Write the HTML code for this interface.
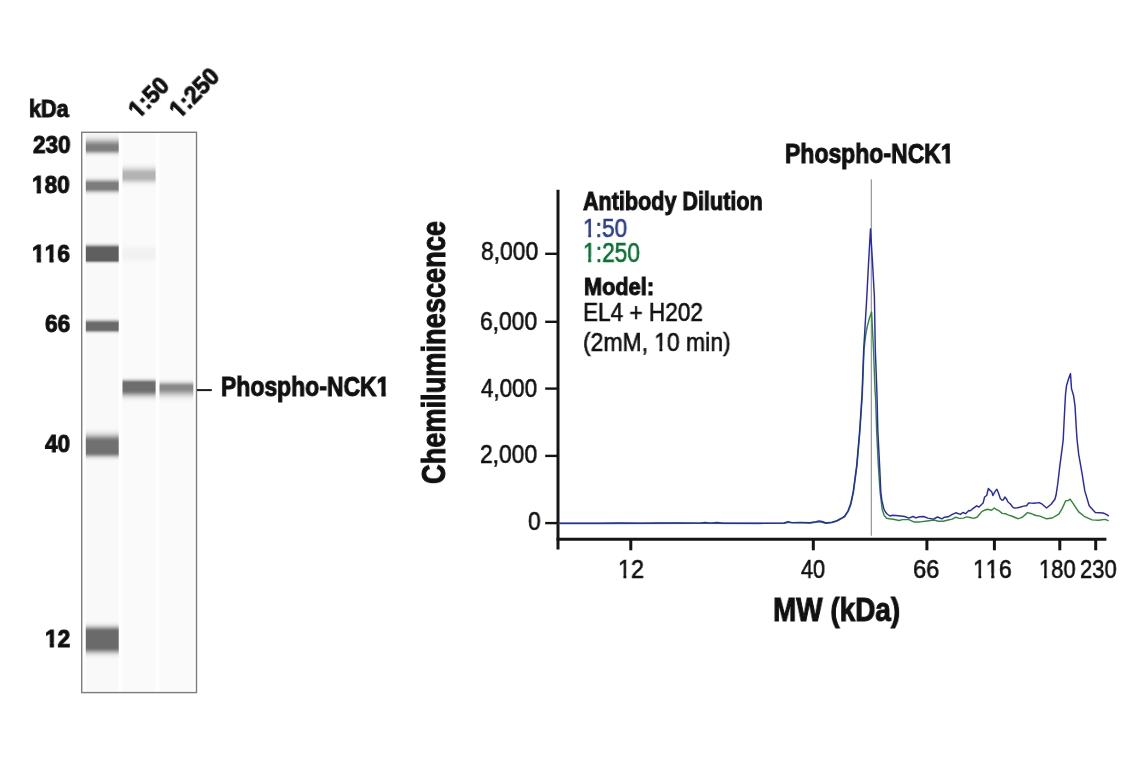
<!DOCTYPE html>
<html><head><meta charset="utf-8"><style>
html,body{margin:0;padding:0;background:#fff;}
body{width:1141px;height:768px;position:relative;overflow:hidden;}
.t{position:absolute;font-family:"Liberation Sans",sans-serif;line-height:1;white-space:pre;transform-origin:0 0;will-change:transform;}.ob,.or{display:inline-block;}.ob{clip-path:polygon(-1em -1em,2em -1em,2em 0.62em,0.395em 0.62em,0.395em 2em,0.21em 2em,0.21em 0.62em,-1em 0.62em);}.or{clip-path:polygon(-1em -1em,2em -1em,2em 0.62em,0.355em 0.62em,0.355em 2em,0.23em 2em,0.23em 0.62em,-1em 0.62em);}
</style></head><body>
<svg width="1141" height="768" viewBox="0 0 1141 768" style="position:absolute;left:0;top:0">
<defs><linearGradient id="g0" x1="0" y1="0" x2="0" y2="1"><stop offset="0.000" stop-color="#7e7e7e" stop-opacity="0.011"/><stop offset="0.025" stop-color="#7e7e7e" stop-opacity="0.016"/><stop offset="0.050" stop-color="#7e7e7e" stop-opacity="0.024"/><stop offset="0.075" stop-color="#7e7e7e" stop-opacity="0.034"/><stop offset="0.100" stop-color="#7e7e7e" stop-opacity="0.048"/><stop offset="0.125" stop-color="#7e7e7e" stop-opacity="0.065"/><stop offset="0.150" stop-color="#7e7e7e" stop-opacity="0.089"/><stop offset="0.175" stop-color="#7e7e7e" stop-opacity="0.118"/><stop offset="0.200" stop-color="#7e7e7e" stop-opacity="0.153"/><stop offset="0.225" stop-color="#7e7e7e" stop-opacity="0.197"/><stop offset="0.250" stop-color="#7e7e7e" stop-opacity="0.248"/><stop offset="0.275" stop-color="#7e7e7e" stop-opacity="0.307"/><stop offset="0.300" stop-color="#7e7e7e" stop-opacity="0.373"/><stop offset="0.325" stop-color="#7e7e7e" stop-opacity="0.446"/><stop offset="0.350" stop-color="#7e7e7e" stop-opacity="0.523"/><stop offset="0.375" stop-color="#7e7e7e" stop-opacity="0.603"/><stop offset="0.400" stop-color="#7e7e7e" stop-opacity="0.684"/><stop offset="0.425" stop-color="#7e7e7e" stop-opacity="0.761"/><stop offset="0.450" stop-color="#7e7e7e" stop-opacity="0.832"/><stop offset="0.475" stop-color="#7e7e7e" stop-opacity="0.894"/><stop offset="0.500" stop-color="#7e7e7e" stop-opacity="0.944"/><stop offset="0.525" stop-color="#7e7e7e" stop-opacity="0.979"/><stop offset="0.550" stop-color="#7e7e7e" stop-opacity="0.997"/><stop offset="0.575" stop-color="#7e7e7e" stop-opacity="1.000"/><stop offset="0.600" stop-color="#7e7e7e" stop-opacity="1.000"/><stop offset="0.625" stop-color="#7e7e7e" stop-opacity="1.000"/><stop offset="0.650" stop-color="#7e7e7e" stop-opacity="1.000"/><stop offset="0.675" stop-color="#7e7e7e" stop-opacity="1.000"/><stop offset="0.700" stop-color="#7e7e7e" stop-opacity="0.976"/><stop offset="0.725" stop-color="#7e7e7e" stop-opacity="0.902"/><stop offset="0.750" stop-color="#7e7e7e" stop-opacity="0.791"/><stop offset="0.775" stop-color="#7e7e7e" stop-opacity="0.657"/><stop offset="0.800" stop-color="#7e7e7e" stop-opacity="0.517"/><stop offset="0.825" stop-color="#7e7e7e" stop-opacity="0.386"/><stop offset="0.850" stop-color="#7e7e7e" stop-opacity="0.273"/><stop offset="0.875" stop-color="#7e7e7e" stop-opacity="0.183"/><stop offset="0.900" stop-color="#7e7e7e" stop-opacity="0.116"/><stop offset="0.925" stop-color="#7e7e7e" stop-opacity="0.070"/><stop offset="0.950" stop-color="#7e7e7e" stop-opacity="0.040"/><stop offset="0.975" stop-color="#7e7e7e" stop-opacity="0.022"/><stop offset="1.000" stop-color="#7e7e7e" stop-opacity="0.011"/></linearGradient><linearGradient id="g1" x1="0" y1="0" x2="0" y2="1"><stop offset="0.000" stop-color="#7c7c7c" stop-opacity="0.011"/><stop offset="0.025" stop-color="#7c7c7c" stop-opacity="0.019"/><stop offset="0.050" stop-color="#7c7c7c" stop-opacity="0.033"/><stop offset="0.075" stop-color="#7c7c7c" stop-opacity="0.053"/><stop offset="0.100" stop-color="#7c7c7c" stop-opacity="0.083"/><stop offset="0.125" stop-color="#7c7c7c" stop-opacity="0.125"/><stop offset="0.150" stop-color="#7c7c7c" stop-opacity="0.182"/><stop offset="0.175" stop-color="#7c7c7c" stop-opacity="0.255"/><stop offset="0.200" stop-color="#7c7c7c" stop-opacity="0.344"/><stop offset="0.225" stop-color="#7c7c7c" stop-opacity="0.448"/><stop offset="0.250" stop-color="#7c7c7c" stop-opacity="0.561"/><stop offset="0.275" stop-color="#7c7c7c" stop-opacity="0.677"/><stop offset="0.300" stop-color="#7c7c7c" stop-opacity="0.788"/><stop offset="0.325" stop-color="#7c7c7c" stop-opacity="0.883"/><stop offset="0.350" stop-color="#7c7c7c" stop-opacity="0.954"/><stop offset="0.375" stop-color="#7c7c7c" stop-opacity="0.994"/><stop offset="0.400" stop-color="#7c7c7c" stop-opacity="1.000"/><stop offset="0.425" stop-color="#7c7c7c" stop-opacity="1.000"/><stop offset="0.450" stop-color="#7c7c7c" stop-opacity="1.000"/><stop offset="0.475" stop-color="#7c7c7c" stop-opacity="1.000"/><stop offset="0.500" stop-color="#7c7c7c" stop-opacity="1.000"/><stop offset="0.525" stop-color="#7c7c7c" stop-opacity="1.000"/><stop offset="0.550" stop-color="#7c7c7c" stop-opacity="1.000"/><stop offset="0.575" stop-color="#7c7c7c" stop-opacity="1.000"/><stop offset="0.600" stop-color="#7c7c7c" stop-opacity="1.000"/><stop offset="0.625" stop-color="#7c7c7c" stop-opacity="0.999"/><stop offset="0.650" stop-color="#7c7c7c" stop-opacity="0.971"/><stop offset="0.675" stop-color="#7c7c7c" stop-opacity="0.908"/><stop offset="0.700" stop-color="#7c7c7c" stop-opacity="0.816"/><stop offset="0.725" stop-color="#7c7c7c" stop-opacity="0.706"/><stop offset="0.750" stop-color="#7c7c7c" stop-opacity="0.588"/><stop offset="0.775" stop-color="#7c7c7c" stop-opacity="0.471"/><stop offset="0.800" stop-color="#7c7c7c" stop-opacity="0.362"/><stop offset="0.825" stop-color="#7c7c7c" stop-opacity="0.269"/><stop offset="0.850" stop-color="#7c7c7c" stop-opacity="0.191"/><stop offset="0.875" stop-color="#7c7c7c" stop-opacity="0.131"/><stop offset="0.900" stop-color="#7c7c7c" stop-opacity="0.087"/><stop offset="0.925" stop-color="#7c7c7c" stop-opacity="0.055"/><stop offset="0.950" stop-color="#7c7c7c" stop-opacity="0.034"/><stop offset="0.975" stop-color="#7c7c7c" stop-opacity="0.020"/><stop offset="1.000" stop-color="#7c7c7c" stop-opacity="0.011"/></linearGradient><linearGradient id="g2" x1="0" y1="0" x2="0" y2="1"><stop offset="0.000" stop-color="#5f5f5f" stop-opacity="0.011"/><stop offset="0.025" stop-color="#5f5f5f" stop-opacity="0.024"/><stop offset="0.050" stop-color="#5f5f5f" stop-opacity="0.047"/><stop offset="0.075" stop-color="#5f5f5f" stop-opacity="0.088"/><stop offset="0.100" stop-color="#5f5f5f" stop-opacity="0.152"/><stop offset="0.125" stop-color="#5f5f5f" stop-opacity="0.246"/><stop offset="0.150" stop-color="#5f5f5f" stop-opacity="0.371"/><stop offset="0.175" stop-color="#5f5f5f" stop-opacity="0.520"/><stop offset="0.200" stop-color="#5f5f5f" stop-opacity="0.680"/><stop offset="0.225" stop-color="#5f5f5f" stop-opacity="0.828"/><stop offset="0.250" stop-color="#5f5f5f" stop-opacity="0.941"/><stop offset="0.275" stop-color="#5f5f5f" stop-opacity="0.997"/><stop offset="0.300" stop-color="#5f5f5f" stop-opacity="1.000"/><stop offset="0.325" stop-color="#5f5f5f" stop-opacity="1.000"/><stop offset="0.350" stop-color="#5f5f5f" stop-opacity="1.000"/><stop offset="0.375" stop-color="#5f5f5f" stop-opacity="1.000"/><stop offset="0.400" stop-color="#5f5f5f" stop-opacity="1.000"/><stop offset="0.425" stop-color="#5f5f5f" stop-opacity="1.000"/><stop offset="0.450" stop-color="#5f5f5f" stop-opacity="1.000"/><stop offset="0.475" stop-color="#5f5f5f" stop-opacity="1.000"/><stop offset="0.500" stop-color="#5f5f5f" stop-opacity="1.000"/><stop offset="0.525" stop-color="#5f5f5f" stop-opacity="1.000"/><stop offset="0.550" stop-color="#5f5f5f" stop-opacity="1.000"/><stop offset="0.575" stop-color="#5f5f5f" stop-opacity="1.000"/><stop offset="0.600" stop-color="#5f5f5f" stop-opacity="1.000"/><stop offset="0.625" stop-color="#5f5f5f" stop-opacity="1.000"/><stop offset="0.650" stop-color="#5f5f5f" stop-opacity="1.000"/><stop offset="0.675" stop-color="#5f5f5f" stop-opacity="1.000"/><stop offset="0.700" stop-color="#5f5f5f" stop-opacity="1.000"/><stop offset="0.725" stop-color="#5f5f5f" stop-opacity="1.000"/><stop offset="0.750" stop-color="#5f5f5f" stop-opacity="1.000"/><stop offset="0.775" stop-color="#5f5f5f" stop-opacity="1.000"/><stop offset="0.800" stop-color="#5f5f5f" stop-opacity="1.000"/><stop offset="0.825" stop-color="#5f5f5f" stop-opacity="0.985"/><stop offset="0.850" stop-color="#5f5f5f" stop-opacity="0.845"/><stop offset="0.875" stop-color="#5f5f5f" stop-opacity="0.617"/><stop offset="0.900" stop-color="#5f5f5f" stop-opacity="0.382"/><stop offset="0.925" stop-color="#5f5f5f" stop-opacity="0.202"/><stop offset="0.950" stop-color="#5f5f5f" stop-opacity="0.090"/><stop offset="0.975" stop-color="#5f5f5f" stop-opacity="0.034"/><stop offset="1.000" stop-color="#5f5f5f" stop-opacity="0.011"/></linearGradient><linearGradient id="g3" x1="0" y1="0" x2="0" y2="1"><stop offset="0.000" stop-color="#6a6a6a" stop-opacity="0.011"/><stop offset="0.025" stop-color="#6a6a6a" stop-opacity="0.020"/><stop offset="0.050" stop-color="#6a6a6a" stop-opacity="0.035"/><stop offset="0.075" stop-color="#6a6a6a" stop-opacity="0.059"/><stop offset="0.100" stop-color="#6a6a6a" stop-opacity="0.095"/><stop offset="0.125" stop-color="#6a6a6a" stop-opacity="0.145"/><stop offset="0.150" stop-color="#6a6a6a" stop-opacity="0.214"/><stop offset="0.175" stop-color="#6a6a6a" stop-opacity="0.301"/><stop offset="0.200" stop-color="#6a6a6a" stop-opacity="0.406"/><stop offset="0.225" stop-color="#6a6a6a" stop-opacity="0.525"/><stop offset="0.250" stop-color="#6a6a6a" stop-opacity="0.650"/><stop offset="0.275" stop-color="#6a6a6a" stop-opacity="0.771"/><stop offset="0.300" stop-color="#6a6a6a" stop-opacity="0.876"/><stop offset="0.325" stop-color="#6a6a6a" stop-opacity="0.954"/><stop offset="0.350" stop-color="#6a6a6a" stop-opacity="0.995"/><stop offset="0.375" stop-color="#6a6a6a" stop-opacity="1.000"/><stop offset="0.400" stop-color="#6a6a6a" stop-opacity="1.000"/><stop offset="0.425" stop-color="#6a6a6a" stop-opacity="1.000"/><stop offset="0.450" stop-color="#6a6a6a" stop-opacity="1.000"/><stop offset="0.475" stop-color="#6a6a6a" stop-opacity="1.000"/><stop offset="0.500" stop-color="#6a6a6a" stop-opacity="1.000"/><stop offset="0.525" stop-color="#6a6a6a" stop-opacity="1.000"/><stop offset="0.550" stop-color="#6a6a6a" stop-opacity="1.000"/><stop offset="0.575" stop-color="#6a6a6a" stop-opacity="1.000"/><stop offset="0.600" stop-color="#6a6a6a" stop-opacity="1.000"/><stop offset="0.625" stop-color="#6a6a6a" stop-opacity="1.000"/><stop offset="0.650" stop-color="#6a6a6a" stop-opacity="1.000"/><stop offset="0.675" stop-color="#6a6a6a" stop-opacity="1.000"/><stop offset="0.700" stop-color="#6a6a6a" stop-opacity="1.000"/><stop offset="0.725" stop-color="#6a6a6a" stop-opacity="0.984"/><stop offset="0.750" stop-color="#6a6a6a" stop-opacity="0.910"/><stop offset="0.775" stop-color="#6a6a6a" stop-opacity="0.788"/><stop offset="0.800" stop-color="#6a6a6a" stop-opacity="0.638"/><stop offset="0.825" stop-color="#6a6a6a" stop-opacity="0.484"/><stop offset="0.850" stop-color="#6a6a6a" stop-opacity="0.344"/><stop offset="0.875" stop-color="#6a6a6a" stop-opacity="0.229"/><stop offset="0.900" stop-color="#6a6a6a" stop-opacity="0.143"/><stop offset="0.925" stop-color="#6a6a6a" stop-opacity="0.083"/><stop offset="0.950" stop-color="#6a6a6a" stop-opacity="0.045"/><stop offset="0.975" stop-color="#6a6a6a" stop-opacity="0.023"/><stop offset="1.000" stop-color="#6a6a6a" stop-opacity="0.011"/></linearGradient><linearGradient id="g4" x1="0" y1="0" x2="0" y2="1"><stop offset="0.000" stop-color="#707070" stop-opacity="0.011"/><stop offset="0.025" stop-color="#707070" stop-opacity="0.019"/><stop offset="0.050" stop-color="#707070" stop-opacity="0.031"/><stop offset="0.075" stop-color="#707070" stop-opacity="0.050"/><stop offset="0.100" stop-color="#707070" stop-opacity="0.076"/><stop offset="0.125" stop-color="#707070" stop-opacity="0.114"/><stop offset="0.150" stop-color="#707070" stop-opacity="0.164"/><stop offset="0.175" stop-color="#707070" stop-opacity="0.229"/><stop offset="0.200" stop-color="#707070" stop-opacity="0.308"/><stop offset="0.225" stop-color="#707070" stop-opacity="0.401"/><stop offset="0.250" stop-color="#707070" stop-opacity="0.505"/><stop offset="0.275" stop-color="#707070" stop-opacity="0.615"/><stop offset="0.300" stop-color="#707070" stop-opacity="0.725"/><stop offset="0.325" stop-color="#707070" stop-opacity="0.826"/><stop offset="0.350" stop-color="#707070" stop-opacity="0.909"/><stop offset="0.375" stop-color="#707070" stop-opacity="0.969"/><stop offset="0.400" stop-color="#707070" stop-opacity="0.998"/><stop offset="0.425" stop-color="#707070" stop-opacity="1.000"/><stop offset="0.450" stop-color="#707070" stop-opacity="1.000"/><stop offset="0.475" stop-color="#707070" stop-opacity="1.000"/><stop offset="0.500" stop-color="#707070" stop-opacity="1.000"/><stop offset="0.525" stop-color="#707070" stop-opacity="1.000"/><stop offset="0.550" stop-color="#707070" stop-opacity="1.000"/><stop offset="0.575" stop-color="#707070" stop-opacity="1.000"/><stop offset="0.600" stop-color="#707070" stop-opacity="1.000"/><stop offset="0.625" stop-color="#707070" stop-opacity="1.000"/><stop offset="0.650" stop-color="#707070" stop-opacity="1.000"/><stop offset="0.675" stop-color="#707070" stop-opacity="1.000"/><stop offset="0.700" stop-color="#707070" stop-opacity="1.000"/><stop offset="0.725" stop-color="#707070" stop-opacity="1.000"/><stop offset="0.750" stop-color="#707070" stop-opacity="0.982"/><stop offset="0.775" stop-color="#707070" stop-opacity="0.894"/><stop offset="0.800" stop-color="#707070" stop-opacity="0.753"/><stop offset="0.825" stop-color="#707070" stop-opacity="0.586"/><stop offset="0.850" stop-color="#707070" stop-opacity="0.421"/><stop offset="0.875" stop-color="#707070" stop-opacity="0.280"/><stop offset="0.900" stop-color="#707070" stop-opacity="0.172"/><stop offset="0.925" stop-color="#707070" stop-opacity="0.098"/><stop offset="0.950" stop-color="#707070" stop-opacity="0.051"/><stop offset="0.975" stop-color="#707070" stop-opacity="0.025"/><stop offset="1.000" stop-color="#707070" stop-opacity="0.011"/></linearGradient><linearGradient id="g5" x1="0" y1="0" x2="0" y2="1"><stop offset="0.000" stop-color="#6b6b6b" stop-opacity="0.011"/><stop offset="0.025" stop-color="#6b6b6b" stop-opacity="0.024"/><stop offset="0.050" stop-color="#6b6b6b" stop-opacity="0.049"/><stop offset="0.075" stop-color="#6b6b6b" stop-opacity="0.092"/><stop offset="0.100" stop-color="#6b6b6b" stop-opacity="0.160"/><stop offset="0.125" stop-color="#6b6b6b" stop-opacity="0.260"/><stop offset="0.150" stop-color="#6b6b6b" stop-opacity="0.391"/><stop offset="0.175" stop-color="#6b6b6b" stop-opacity="0.547"/><stop offset="0.200" stop-color="#6b6b6b" stop-opacity="0.710"/><stop offset="0.225" stop-color="#6b6b6b" stop-opacity="0.857"/><stop offset="0.250" stop-color="#6b6b6b" stop-opacity="0.961"/><stop offset="0.275" stop-color="#6b6b6b" stop-opacity="1.000"/><stop offset="0.300" stop-color="#6b6b6b" stop-opacity="1.000"/><stop offset="0.325" stop-color="#6b6b6b" stop-opacity="1.000"/><stop offset="0.350" stop-color="#6b6b6b" stop-opacity="1.000"/><stop offset="0.375" stop-color="#6b6b6b" stop-opacity="1.000"/><stop offset="0.400" stop-color="#6b6b6b" stop-opacity="1.000"/><stop offset="0.425" stop-color="#6b6b6b" stop-opacity="1.000"/><stop offset="0.450" stop-color="#6b6b6b" stop-opacity="1.000"/><stop offset="0.475" stop-color="#6b6b6b" stop-opacity="1.000"/><stop offset="0.500" stop-color="#6b6b6b" stop-opacity="1.000"/><stop offset="0.525" stop-color="#6b6b6b" stop-opacity="1.000"/><stop offset="0.550" stop-color="#6b6b6b" stop-opacity="1.000"/><stop offset="0.575" stop-color="#6b6b6b" stop-opacity="1.000"/><stop offset="0.600" stop-color="#6b6b6b" stop-opacity="1.000"/><stop offset="0.625" stop-color="#6b6b6b" stop-opacity="1.000"/><stop offset="0.650" stop-color="#6b6b6b" stop-opacity="1.000"/><stop offset="0.675" stop-color="#6b6b6b" stop-opacity="1.000"/><stop offset="0.700" stop-color="#6b6b6b" stop-opacity="0.999"/><stop offset="0.725" stop-color="#6b6b6b" stop-opacity="0.958"/><stop offset="0.750" stop-color="#6b6b6b" stop-opacity="0.865"/><stop offset="0.775" stop-color="#6b6b6b" stop-opacity="0.735"/><stop offset="0.800" stop-color="#6b6b6b" stop-opacity="0.588"/><stop offset="0.825" stop-color="#6b6b6b" stop-opacity="0.443"/><stop offset="0.850" stop-color="#6b6b6b" stop-opacity="0.314"/><stop offset="0.875" stop-color="#6b6b6b" stop-opacity="0.209"/><stop offset="0.900" stop-color="#6b6b6b" stop-opacity="0.131"/><stop offset="0.925" stop-color="#6b6b6b" stop-opacity="0.078"/><stop offset="0.950" stop-color="#6b6b6b" stop-opacity="0.043"/><stop offset="0.975" stop-color="#6b6b6b" stop-opacity="0.023"/><stop offset="1.000" stop-color="#6b6b6b" stop-opacity="0.011"/></linearGradient><linearGradient id="g6" x1="0" y1="0" x2="0" y2="1"><stop offset="0.000" stop-color="#b3b3b3" stop-opacity="0.011"/><stop offset="0.025" stop-color="#b3b3b3" stop-opacity="0.018"/><stop offset="0.050" stop-color="#b3b3b3" stop-opacity="0.028"/><stop offset="0.075" stop-color="#b3b3b3" stop-opacity="0.042"/><stop offset="0.100" stop-color="#b3b3b3" stop-opacity="0.063"/><stop offset="0.125" stop-color="#b3b3b3" stop-opacity="0.090"/><stop offset="0.150" stop-color="#b3b3b3" stop-opacity="0.127"/><stop offset="0.175" stop-color="#b3b3b3" stop-opacity="0.174"/><stop offset="0.200" stop-color="#b3b3b3" stop-opacity="0.232"/><stop offset="0.225" stop-color="#b3b3b3" stop-opacity="0.302"/><stop offset="0.250" stop-color="#b3b3b3" stop-opacity="0.382"/><stop offset="0.275" stop-color="#b3b3b3" stop-opacity="0.472"/><stop offset="0.300" stop-color="#b3b3b3" stop-opacity="0.568"/><stop offset="0.325" stop-color="#b3b3b3" stop-opacity="0.665"/><stop offset="0.350" stop-color="#b3b3b3" stop-opacity="0.760"/><stop offset="0.375" stop-color="#b3b3b3" stop-opacity="0.845"/><stop offset="0.400" stop-color="#b3b3b3" stop-opacity="0.916"/><stop offset="0.425" stop-color="#b3b3b3" stop-opacity="0.967"/><stop offset="0.450" stop-color="#b3b3b3" stop-opacity="0.995"/><stop offset="0.475" stop-color="#b3b3b3" stop-opacity="1.000"/><stop offset="0.500" stop-color="#b3b3b3" stop-opacity="1.000"/><stop offset="0.525" stop-color="#b3b3b3" stop-opacity="1.000"/><stop offset="0.550" stop-color="#b3b3b3" stop-opacity="1.000"/><stop offset="0.575" stop-color="#b3b3b3" stop-opacity="1.000"/><stop offset="0.600" stop-color="#b3b3b3" stop-opacity="1.000"/><stop offset="0.625" stop-color="#b3b3b3" stop-opacity="0.992"/><stop offset="0.650" stop-color="#b3b3b3" stop-opacity="0.950"/><stop offset="0.675" stop-color="#b3b3b3" stop-opacity="0.878"/><stop offset="0.700" stop-color="#b3b3b3" stop-opacity="0.781"/><stop offset="0.725" stop-color="#b3b3b3" stop-opacity="0.671"/><stop offset="0.750" stop-color="#b3b3b3" stop-opacity="0.555"/><stop offset="0.775" stop-color="#b3b3b3" stop-opacity="0.443"/><stop offset="0.800" stop-color="#b3b3b3" stop-opacity="0.340"/><stop offset="0.825" stop-color="#b3b3b3" stop-opacity="0.252"/><stop offset="0.850" stop-color="#b3b3b3" stop-opacity="0.180"/><stop offset="0.875" stop-color="#b3b3b3" stop-opacity="0.124"/><stop offset="0.900" stop-color="#b3b3b3" stop-opacity="0.082"/><stop offset="0.925" stop-color="#b3b3b3" stop-opacity="0.053"/><stop offset="0.950" stop-color="#b3b3b3" stop-opacity="0.033"/><stop offset="0.975" stop-color="#b3b3b3" stop-opacity="0.019"/><stop offset="1.000" stop-color="#b3b3b3" stop-opacity="0.011"/></linearGradient><linearGradient id="g7" x1="0" y1="0" x2="0" y2="1"><stop offset="0.000" stop-color="#f2f2f2" stop-opacity="0.011"/><stop offset="0.025" stop-color="#f2f2f2" stop-opacity="0.020"/><stop offset="0.050" stop-color="#f2f2f2" stop-opacity="0.034"/><stop offset="0.075" stop-color="#f2f2f2" stop-opacity="0.056"/><stop offset="0.100" stop-color="#f2f2f2" stop-opacity="0.089"/><stop offset="0.125" stop-color="#f2f2f2" stop-opacity="0.135"/><stop offset="0.150" stop-color="#f2f2f2" stop-opacity="0.198"/><stop offset="0.175" stop-color="#f2f2f2" stop-opacity="0.278"/><stop offset="0.200" stop-color="#f2f2f2" stop-opacity="0.375"/><stop offset="0.225" stop-color="#f2f2f2" stop-opacity="0.487"/><stop offset="0.250" stop-color="#f2f2f2" stop-opacity="0.607"/><stop offset="0.275" stop-color="#f2f2f2" stop-opacity="0.726"/><stop offset="0.300" stop-color="#f2f2f2" stop-opacity="0.835"/><stop offset="0.325" stop-color="#f2f2f2" stop-opacity="0.923"/><stop offset="0.350" stop-color="#f2f2f2" stop-opacity="0.980"/><stop offset="0.375" stop-color="#f2f2f2" stop-opacity="1.000"/><stop offset="0.400" stop-color="#f2f2f2" stop-opacity="1.000"/><stop offset="0.425" stop-color="#f2f2f2" stop-opacity="1.000"/><stop offset="0.450" stop-color="#f2f2f2" stop-opacity="1.000"/><stop offset="0.475" stop-color="#f2f2f2" stop-opacity="1.000"/><stop offset="0.500" stop-color="#f2f2f2" stop-opacity="1.000"/><stop offset="0.525" stop-color="#f2f2f2" stop-opacity="1.000"/><stop offset="0.550" stop-color="#f2f2f2" stop-opacity="1.000"/><stop offset="0.575" stop-color="#f2f2f2" stop-opacity="1.000"/><stop offset="0.600" stop-color="#f2f2f2" stop-opacity="1.000"/><stop offset="0.625" stop-color="#f2f2f2" stop-opacity="1.000"/><stop offset="0.650" stop-color="#f2f2f2" stop-opacity="0.980"/><stop offset="0.675" stop-color="#f2f2f2" stop-opacity="0.923"/><stop offset="0.700" stop-color="#f2f2f2" stop-opacity="0.835"/><stop offset="0.725" stop-color="#f2f2f2" stop-opacity="0.726"/><stop offset="0.750" stop-color="#f2f2f2" stop-opacity="0.607"/><stop offset="0.775" stop-color="#f2f2f2" stop-opacity="0.487"/><stop offset="0.800" stop-color="#f2f2f2" stop-opacity="0.375"/><stop offset="0.825" stop-color="#f2f2f2" stop-opacity="0.278"/><stop offset="0.850" stop-color="#f2f2f2" stop-opacity="0.198"/><stop offset="0.875" stop-color="#f2f2f2" stop-opacity="0.135"/><stop offset="0.900" stop-color="#f2f2f2" stop-opacity="0.089"/><stop offset="0.925" stop-color="#f2f2f2" stop-opacity="0.056"/><stop offset="0.950" stop-color="#f2f2f2" stop-opacity="0.034"/><stop offset="0.975" stop-color="#f2f2f2" stop-opacity="0.020"/><stop offset="1.000" stop-color="#f2f2f2" stop-opacity="0.011"/></linearGradient><linearGradient id="g8" x1="0" y1="0" x2="0" y2="1"><stop offset="0.000" stop-color="#6d6d6d" stop-opacity="0.011"/><stop offset="0.025" stop-color="#6d6d6d" stop-opacity="0.026"/><stop offset="0.050" stop-color="#6d6d6d" stop-opacity="0.057"/><stop offset="0.075" stop-color="#6d6d6d" stop-opacity="0.113"/><stop offset="0.100" stop-color="#6d6d6d" stop-opacity="0.203"/><stop offset="0.125" stop-color="#6d6d6d" stop-opacity="0.334"/><stop offset="0.150" stop-color="#6d6d6d" stop-opacity="0.500"/><stop offset="0.175" stop-color="#6d6d6d" stop-opacity="0.683"/><stop offset="0.200" stop-color="#6d6d6d" stop-opacity="0.851"/><stop offset="0.225" stop-color="#6d6d6d" stop-opacity="0.965"/><stop offset="0.250" stop-color="#6d6d6d" stop-opacity="1.000"/><stop offset="0.275" stop-color="#6d6d6d" stop-opacity="1.000"/><stop offset="0.300" stop-color="#6d6d6d" stop-opacity="1.000"/><stop offset="0.325" stop-color="#6d6d6d" stop-opacity="1.000"/><stop offset="0.350" stop-color="#6d6d6d" stop-opacity="1.000"/><stop offset="0.375" stop-color="#6d6d6d" stop-opacity="1.000"/><stop offset="0.400" stop-color="#6d6d6d" stop-opacity="1.000"/><stop offset="0.425" stop-color="#6d6d6d" stop-opacity="1.000"/><stop offset="0.450" stop-color="#6d6d6d" stop-opacity="1.000"/><stop offset="0.475" stop-color="#6d6d6d" stop-opacity="1.000"/><stop offset="0.500" stop-color="#6d6d6d" stop-opacity="1.000"/><stop offset="0.525" stop-color="#6d6d6d" stop-opacity="0.997"/><stop offset="0.550" stop-color="#6d6d6d" stop-opacity="0.975"/><stop offset="0.575" stop-color="#6d6d6d" stop-opacity="0.930"/><stop offset="0.600" stop-color="#6d6d6d" stop-opacity="0.867"/><stop offset="0.625" stop-color="#6d6d6d" stop-opacity="0.789"/><stop offset="0.650" stop-color="#6d6d6d" stop-opacity="0.701"/><stop offset="0.675" stop-color="#6d6d6d" stop-opacity="0.609"/><stop offset="0.700" stop-color="#6d6d6d" stop-opacity="0.516"/><stop offset="0.725" stop-color="#6d6d6d" stop-opacity="0.427"/><stop offset="0.750" stop-color="#6d6d6d" stop-opacity="0.345"/><stop offset="0.775" stop-color="#6d6d6d" stop-opacity="0.272"/><stop offset="0.800" stop-color="#6d6d6d" stop-opacity="0.210"/><stop offset="0.825" stop-color="#6d6d6d" stop-opacity="0.158"/><stop offset="0.850" stop-color="#6d6d6d" stop-opacity="0.116"/><stop offset="0.875" stop-color="#6d6d6d" stop-opacity="0.083"/><stop offset="0.900" stop-color="#6d6d6d" stop-opacity="0.058"/><stop offset="0.925" stop-color="#6d6d6d" stop-opacity="0.040"/><stop offset="0.950" stop-color="#6d6d6d" stop-opacity="0.027"/><stop offset="0.975" stop-color="#6d6d6d" stop-opacity="0.017"/><stop offset="1.000" stop-color="#6d6d6d" stop-opacity="0.011"/></linearGradient><linearGradient id="g9" x1="0" y1="0" x2="0" y2="1"><stop offset="0.000" stop-color="#888888" stop-opacity="0.011"/><stop offset="0.025" stop-color="#888888" stop-opacity="0.021"/><stop offset="0.050" stop-color="#888888" stop-opacity="0.038"/><stop offset="0.075" stop-color="#888888" stop-opacity="0.066"/><stop offset="0.100" stop-color="#888888" stop-opacity="0.109"/><stop offset="0.125" stop-color="#888888" stop-opacity="0.170"/><stop offset="0.150" stop-color="#888888" stop-opacity="0.252"/><stop offset="0.175" stop-color="#888888" stop-opacity="0.356"/><stop offset="0.200" stop-color="#888888" stop-opacity="0.478"/><stop offset="0.225" stop-color="#888888" stop-opacity="0.612"/><stop offset="0.250" stop-color="#888888" stop-opacity="0.745"/><stop offset="0.275" stop-color="#888888" stop-opacity="0.862"/><stop offset="0.300" stop-color="#888888" stop-opacity="0.950"/><stop offset="0.325" stop-color="#888888" stop-opacity="0.995"/><stop offset="0.350" stop-color="#888888" stop-opacity="1.000"/><stop offset="0.375" stop-color="#888888" stop-opacity="1.000"/><stop offset="0.400" stop-color="#888888" stop-opacity="1.000"/><stop offset="0.425" stop-color="#888888" stop-opacity="0.992"/><stop offset="0.450" stop-color="#888888" stop-opacity="0.969"/><stop offset="0.475" stop-color="#888888" stop-opacity="0.932"/><stop offset="0.500" stop-color="#888888" stop-opacity="0.882"/><stop offset="0.525" stop-color="#888888" stop-opacity="0.823"/><stop offset="0.550" stop-color="#888888" stop-opacity="0.755"/><stop offset="0.575" stop-color="#888888" stop-opacity="0.682"/><stop offset="0.600" stop-color="#888888" stop-opacity="0.607"/><stop offset="0.625" stop-color="#888888" stop-opacity="0.531"/><stop offset="0.650" stop-color="#888888" stop-opacity="0.458"/><stop offset="0.675" stop-color="#888888" stop-opacity="0.389"/><stop offset="0.700" stop-color="#888888" stop-opacity="0.325"/><stop offset="0.725" stop-color="#888888" stop-opacity="0.267"/><stop offset="0.750" stop-color="#888888" stop-opacity="0.216"/><stop offset="0.775" stop-color="#888888" stop-opacity="0.172"/><stop offset="0.800" stop-color="#888888" stop-opacity="0.135"/><stop offset="0.825" stop-color="#888888" stop-opacity="0.105"/><stop offset="0.850" stop-color="#888888" stop-opacity="0.080"/><stop offset="0.875" stop-color="#888888" stop-opacity="0.060"/><stop offset="0.900" stop-color="#888888" stop-opacity="0.044"/><stop offset="0.925" stop-color="#888888" stop-opacity="0.032"/><stop offset="0.950" stop-color="#888888" stop-opacity="0.023"/><stop offset="0.975" stop-color="#888888" stop-opacity="0.016"/><stop offset="1.000" stop-color="#888888" stop-opacity="0.011"/></linearGradient><filter id="bl" x="-5%" y="-5%" width="110%" height="110%"><feGaussianBlur stdDeviation="0.6"/></filter></defs>
<g filter="url(#bl)">
<rect x="82" y="132.5" width="114" height="560" fill="#fefefe"/>
<rect x="85.8" y="133" width="32.9" height="559" fill="#f9f9f9"/>
<rect x="122.5" y="133" width="33.1" height="559" fill="#fafafa"/>
<rect x="159.5" y="133" width="33.8" height="559" fill="#fafafa"/>
<rect x="85.8" y="132.50" width="32.90" height="25.00" fill="url(#g0)"/><rect x="85.8" y="175.72" width="32.90" height="20.48" fill="url(#g1)"/><rect x="85.8" y="241.81" width="32.90" height="22.59" fill="url(#g2)"/><rect x="85.8" y="317.01" width="32.90" height="17.65" fill="url(#g3)"/><rect x="85.8" y="427.80" width="32.90" height="33.70" fill="url(#g4)"/><rect x="85.8" y="621.03" width="32.90" height="37.92" fill="url(#g5)"/><rect x="122.5" y="161.80" width="33.10" height="25.81" fill="url(#g6)"/><rect x="122.5" y="242.00" width="33.10" height="24.00" fill="url(#g7)"/><rect x="122.5" y="376.61" width="33.10" height="25.89" fill="url(#g8)"/><rect x="159.5" y="378.00" width="33.80" height="25.00" fill="url(#g9)"/>
</g>
<rect x="81.7" y="132.3" width="114.8" height="560.3" fill="none" stroke="#7d7d7d" stroke-width="1.4"/>
<line x1="197" y1="390.1" x2="211.8" y2="390.1" stroke="#1a1a1a" stroke-width="2"/>
<!-- chart axes -->
<line x1="558" y1="189.7" x2="558" y2="549.5" stroke="#141414" stroke-width="3"/>
<line x1="556.5" y1="539.3" x2="1106.4" y2="539.3" stroke="#141414" stroke-width="3"/>
<g stroke="#141414" stroke-width="2.4">
<line x1="545.2" y1="253.8" x2="558" y2="253.8"/>
<line x1="545.2" y1="321.8" x2="558" y2="321.8"/>
<line x1="545.2" y1="388.6" x2="558" y2="388.6"/>
<line x1="545.2" y1="455.9" x2="558" y2="455.9"/>
<line x1="545.2" y1="523.1" x2="558" y2="523.1"/>
</g>
<g stroke="#141414" stroke-width="3">
<line x1="630.8" y1="539" x2="630.8" y2="550.3"/>
<line x1="813.3" y1="539" x2="813.3" y2="550.3"/>
<line x1="926.9" y1="539" x2="926.9" y2="550.3"/>
<line x1="994.4" y1="539" x2="994.4" y2="550.3"/>
<line x1="1059.8" y1="539" x2="1059.8" y2="550.3"/>
<line x1="1095.7" y1="539" x2="1095.7" y2="550.3"/>
</g>
<line x1="871.3" y1="179.2" x2="871.3" y2="535.8" stroke="#8c8c8c" stroke-width="1.1"/>
<polyline points="558.5,523.4 600.0,523.4 700.0,523.3 760.0,523.4 784.0,523.2 788.0,522.4 792.0,522.9 800.0,522.8 810.0,523.0 816.0,522.3 819.0,521.8 822.0,522.2 826.0,523.2 832.0,522.6 837.0,521.0 840.0,519.4 844.6,516.8 848.2,511.4 850.9,504.3 853.5,492.0 857.0,465.4 860.0,430.2 862.3,395.0 864.0,349.7 865.7,335.0 867.1,327.1 869.5,318.0 871.6,312.1 872.5,330.0 873.5,349.7 875.0,390.0 875.7,400.0 876.6,430.0 878.3,465.0 880.1,491.8 882.2,509.4 884.2,515.5 886.6,518.2 889.2,518.8 893.4,519.3 899.0,520.5 902.5,519.6 908.8,519.6 913.8,521.9 920.1,521.9 927.1,521.0 934.1,520.0 938.3,521.2 943.2,521.2 948.1,520.0 952.3,519.1 955.8,517.2 958.6,518.1 960.0,518.4 963.5,518.1 966.7,516.9 970.0,517.5 973.5,518.4 977.0,517.2 979.3,514.6 981.7,511.6 984.6,510.2 987.5,509.3 991.6,510.2 994.3,508.0 996.6,509.6 998.7,510.5 1002.2,513.4 1005.4,513.7 1008.6,515.1 1011.6,516.0 1015.1,517.5 1017.7,518.7 1020.0,518.1 1022.3,517.3 1027.6,512.6 1031.8,513.8 1036.0,515.5 1040.0,516.1 1046.6,518.8 1052.2,518.0 1058.8,514.1 1062.1,508.6 1065.7,500.8 1068.2,500.6 1070.1,499.2 1073.2,503.6 1078.7,511.9 1084.2,516.3 1092.0,519.9 1098.6,520.2 1105.3,519.4 1108.6,520.8" fill="none" stroke="#2f8a36" stroke-width="1.45" stroke-linejoin="round"/>
<polyline points="558.5,523.2 580.0,523.3 600.0,523.2 620.0,523.0 640.0,523.2 660.0,523.0 680.0,522.9 700.0,523.1 705.0,522.5 711.0,523.1 717.0,522.5 723.0,523.2 740.0,523.3 760.0,523.2 784.0,523.0 788.0,521.8 792.0,522.6 800.0,522.4 810.0,522.8 816.0,521.6 819.0,520.9 822.0,521.5 826.0,523.0 832.0,522.2 837.0,520.6 840.0,519.0 844.4,516.4 847.9,511.1 850.6,504.1 853.2,491.8 856.7,465.4 859.7,430.2 862.0,395.0 863.7,349.7 866.8,297.0 868.5,264.1 870.5,228.9 872.6,264.1 874.4,297.0 875.3,349.7 877.0,395.0 877.8,430.2 879.6,465.4 880.8,491.8 881.9,500.6 884.0,509.4 885.5,512.0 887.1,514.0 889.9,516.0 892.7,515.3 898.3,515.8 904.6,516.5 908.8,518.1 913.1,516.5 915.9,517.9 919.4,516.7 923.6,516.5 927.8,518.1 933.4,519.1 937.6,517.0 941.8,518.8 944.6,517.2 948.1,516.8 952.3,514.4 955.8,512.8 960.4,514.4 962.9,512.5 965.6,513.7 968.8,510.5 970.3,510.8 973.5,508.1 976.7,505.8 979.0,507.1 983.1,503.1 984.6,497.0 986.7,495.5 988.4,488.5 990.5,490.8 991.6,491.4 992.9,495.5 995.1,491.4 996.9,489.3 998.7,493.8 1000.4,498.7 1002.2,500.2 1003.4,499.9 1004.8,497.0 1006.3,498.7 1008.0,502.0 1010.4,504.0 1012.7,507.2 1014.5,508.1 1017.4,507.8 1019.8,507.2 1023.4,506.1 1026.6,505.8 1028.7,502.9 1031.8,503.1 1033.9,503.3 1039.2,502.6 1042.2,504.2 1046.6,508.0 1051.1,504.2 1054.9,499.2 1056.0,495.3 1057.7,484.2 1059.9,465.4 1062.1,448.8 1063.2,440.0 1064.3,417.3 1065.5,394.4 1066.5,385.8 1068.5,379.0 1070.5,373.6 1071.5,388.6 1073.6,395.8 1075.0,405.8 1076.5,431.6 1077.1,440.0 1078.7,454.4 1082.0,473.2 1084.8,490.9 1089.2,505.8 1095.3,512.5 1103.1,513.0 1106.4,514.3 1108.8,516.1" fill="none" stroke="#2828b4" stroke-width="1.45" stroke-linejoin="round"/>
</svg>
<div class="t" style="left:28.67px;top:97.46px;font-size:24.493px;font-weight:700;color:#111111;-webkit-text-stroke:1.0px #111111;transform:scaleX(0.8834)">kDa</div>
<div class="t" style="left:33.05px;top:133.49px;font-size:24.700px;font-weight:700;color:#111111;-webkit-text-stroke:1.0px #111111;transform:scaleX(0.9108)">230</div>
<div class="t" style="left:32.18px;top:172.90px;font-size:24.700px;font-weight:700;color:#111111;-webkit-text-stroke:1.0px #111111;transform:scaleX(0.9149)"><span class="ob">1</span>80</div>
<div class="t" style="left:32.16px;top:241.60px;font-size:24.700px;font-weight:700;color:#111111;-webkit-text-stroke:1.0px #111111;transform:scaleX(0.9196)"><span class="ob">1</span><span class="ob">1</span>6</div>
<div class="t" style="left:45.31px;top:311.77px;font-size:24.700px;font-weight:700;color:#111111;-webkit-text-stroke:1.0px #111111;transform:scaleX(0.9153)">66</div>
<div class="t" style="left:44.88px;top:432.00px;font-size:24.700px;font-weight:700;color:#111111;-webkit-text-stroke:1.0px #111111;transform:scaleX(0.9103)">40</div>
<div class="t" style="left:45.40px;top:626.70px;font-size:24.700px;font-weight:700;color:#111111;-webkit-text-stroke:1.0px #111111;transform:scaleX(0.9164)"><span class="ob">1</span>2</div>
<div class="t" style="left:220.61px;top:374.38px;font-size:26.957px;font-weight:700;color:#111111;-webkit-text-stroke:1.0px #111111;transform:scaleX(0.8524)">Phospho-NCK<span class="ob">1</span></div>
<div class="t" style="left:125.32px;top:105.90px;font-size:23.500px;font-weight:700;color:#111111;-webkit-text-stroke:1.0px #111111;transform:rotate(-45deg) scaleX(0.9711)"><span class="ob">1</span>:50</div>
<div class="t" style="left:165.92px;top:105.58px;font-size:23.500px;font-weight:700;color:#111111;-webkit-text-stroke:1.0px #111111;transform:rotate(-45deg) scaleX(0.9770)"><span class="ob">1</span>:250</div>
<div class="t" style="left:785.00px;top:141.38px;font-size:26.957px;font-weight:700;color:#111111;-webkit-text-stroke:1.0px #111111;transform:scaleX(0.8537)">Phospho-NCK<span class="ob">1</span></div>
<div class="t" style="left:583.47px;top:188.57px;font-size:25.072px;font-weight:700;color:#111111;-webkit-text-stroke:1.0px #111111;transform:scaleX(0.8603)">Antibody Dilution</div>
<div class="t" style="left:582.79px;top:215.80px;font-size:25.757px;font-weight:400;color:#2a3d90;-webkit-text-stroke:0.6px #2a3d90;transform:scaleX(0.8828)"><span class="or">1</span>:50</div>
<div class="t" style="left:582.73px;top:239.70px;font-size:26.838px;font-weight:400;color:#0b7234;-webkit-text-stroke:0.6px #0b7234;transform:scaleX(0.8487)"><span class="or">1</span>:250</div>
<div class="t" style="left:584.14px;top:275.04px;font-size:24.638px;font-weight:700;color:#111111;-webkit-text-stroke:1.0px #111111;transform:scaleX(0.8823)">Model:</div>
<div class="t" style="left:582.98px;top:299.59px;font-size:25.217px;font-weight:400;color:#111111;-webkit-text-stroke:0.6px #111111;transform:scaleX(0.8965)">EL4 + H202</div>
<div class="t" style="left:582.63px;top:329.53px;font-size:24.928px;font-weight:400;color:#111111;-webkit-text-stroke:0.6px #111111;transform:scaleX(0.9196)">(2mM, <span class="or">1</span>0 min)</div>
<div class="t" style="left:481.02px;top:239.41px;font-size:25.800px;font-weight:400;color:#111111;-webkit-text-stroke:0.6px #111111;transform:scaleX(0.8860)">8,000</div>
<div class="t" style="left:479.93px;top:309.19px;font-size:25.800px;font-weight:400;color:#111111;-webkit-text-stroke:0.6px #111111;transform:scaleX(0.8850)">6,000</div>
<div class="t" style="left:480.82px;top:375.65px;font-size:25.800px;font-weight:400;color:#111111;-webkit-text-stroke:0.6px #111111;transform:scaleX(0.8688)">4,000</div>
<div class="t" style="left:479.88px;top:442.27px;font-size:25.800px;font-weight:400;color:#111111;-webkit-text-stroke:0.6px #111111;transform:scaleX(0.8850)">2,000</div>
<div class="t" style="left:527.59px;top:509.02px;font-size:25.800px;font-weight:400;color:#111111;-webkit-text-stroke:0.6px #111111;transform:scaleX(0.8812)">0</div>
<div class="t" style="left:416.60px;top:484.17px;font-size:33.913px;font-weight:700;color:#111111;-webkit-text-stroke:1.0px #111111;transform:rotate(-90deg) scaleX(0.8022)">Chemiluminescence</div>
<div class="t" style="left:617.50px;top:556.50px;font-size:25.800px;font-weight:400;color:#111111;-webkit-text-stroke:0.6px #111111;transform:scaleX(0.9096)"><span class="or">1</span>2</div>
<div class="t" style="left:800.85px;top:557.00px;font-size:25.800px;font-weight:400;color:#111111;-webkit-text-stroke:0.6px #111111;transform:scaleX(0.8393)">40</div>
<div class="t" style="left:913.41px;top:557.03px;font-size:25.800px;font-weight:400;color:#111111;-webkit-text-stroke:0.6px #111111;transform:scaleX(0.9178)">66</div>
<div class="t" style="left:972.90px;top:557.00px;font-size:25.800px;font-weight:400;color:#111111;-webkit-text-stroke:0.6px #111111;transform:scaleX(0.8991)"><span class="or">1</span><span class="or">1</span>6</div>
<div class="t" style="left:1038.97px;top:557.00px;font-size:25.800px;font-weight:400;color:#111111;-webkit-text-stroke:0.6px #111111;transform:scaleX(0.8510)"><span class="or">1</span>80</div>
<div class="t" style="left:1079.70px;top:556.87px;font-size:25.800px;font-weight:400;color:#111111;-webkit-text-stroke:0.6px #111111;transform:scaleX(0.8522)">230</div>
<div class="t" style="left:772.61px;top:594.18px;font-size:32.754px;font-weight:700;color:#111111;-webkit-text-stroke:1.0px #111111;transform:scaleX(0.8523)">MW (kDa)</div>
</body></html>
